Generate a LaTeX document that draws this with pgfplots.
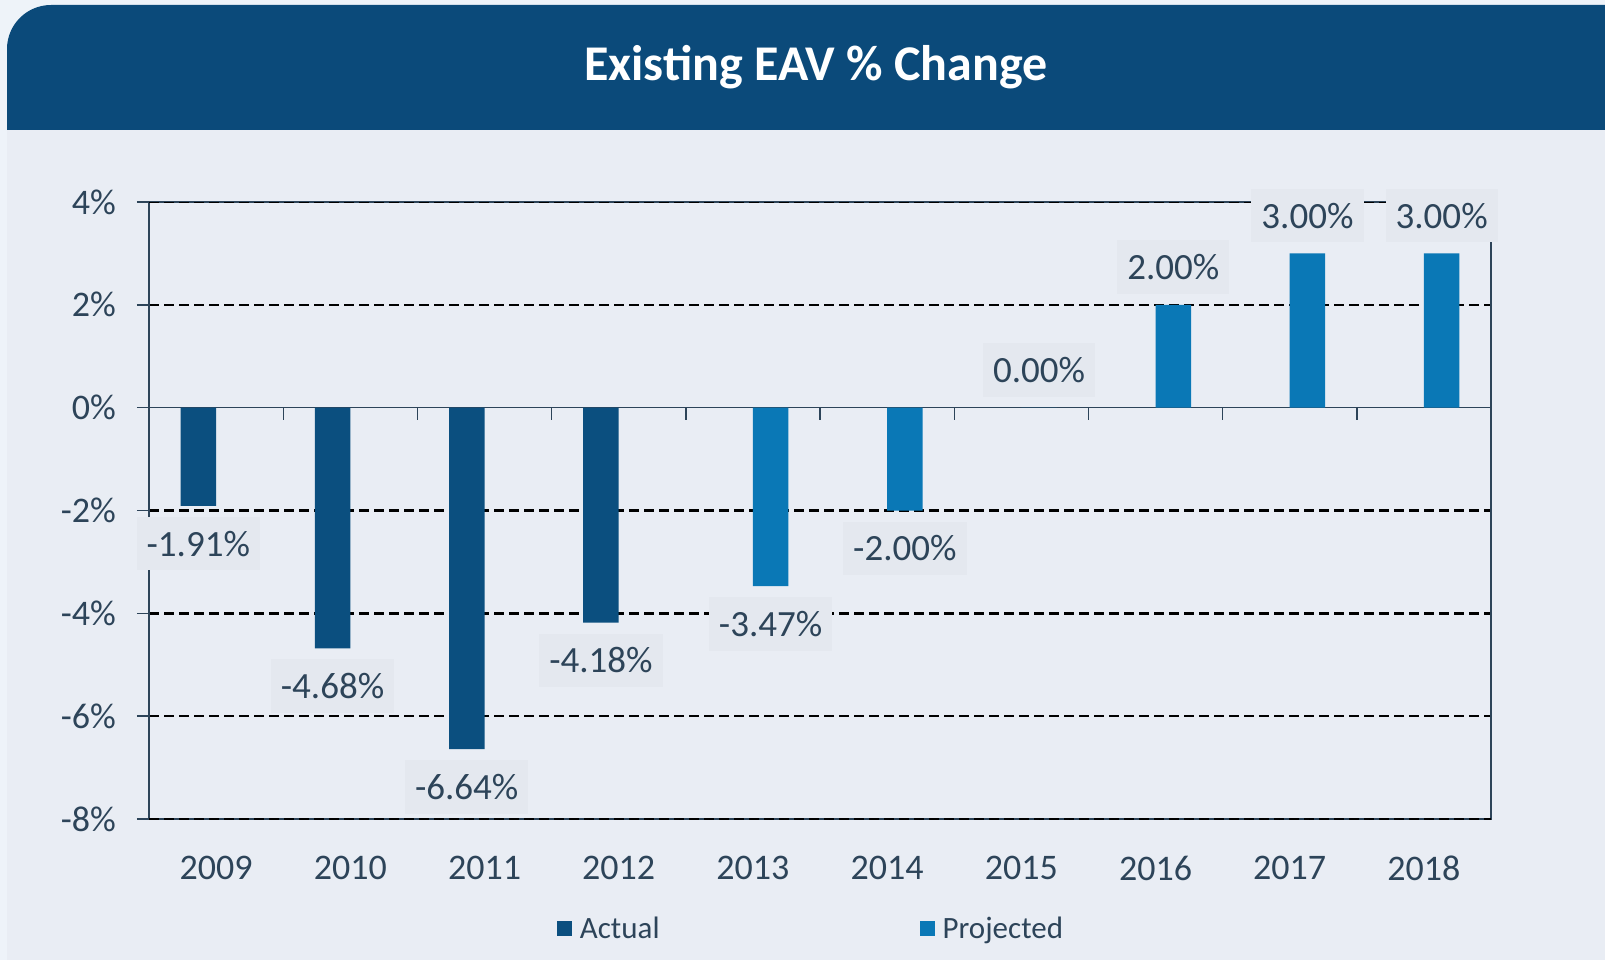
\documentclass[border=0pt]{standalone}
\usepackage{pgfplots}
\pgfplotsset{compat=1.18}
\usepackage{fontspec}
\setmainfont{Carlito}
\definecolor{bg}{HTML}{E9EDF4}
\definecolor{bgtop}{HTML}{EEF3F9}
\definecolor{band}{HTML}{0B4A7A}
\definecolor{actual}{HTML}{0B4F7F}
\definecolor{proj}{HTML}{0A78B6}
\definecolor{txt}{HTML}{2D4459}
\definecolor{lblbg}{HTML}{E4E8EF}
\begin{document}
\begin{tikzpicture}
\begin{scope}[x=0.5pt,y=0.5pt]
\useasboundingbox (0,0) rectangle (1605,960);
\fill[bgtop] (0,0) rectangle (1605,960);
\fill[bg] (7,0) rectangle (1605,830);
\fill[band] (7,830) [rounded corners=22pt] -- (7,955) -- (1700,955) [sharp corners] -- (1700,830) -- cycle;
\node[text=white, font=\bfseries\fontsize{25pt}{28pt}\selectfont] at (816,892.5) {Existing EAV \% Change};
\end{scope}
\begin{axis}[
  at={(74.5pt,70.5pt)}, anchor=south west,
  scale only axis, width=671pt, height=308.5pt,
  xmin=-0.5, xmax=9.5, ymin=-8, ymax=4,
  /pgf/number format/assume math mode=true,
  ytick={-8,-6,-4,-2,2,4},
  extra y ticks={0},
  extra y tick labels={0\%},
  extra y tick style={grid style={solid, draw=txt, line width=0.8pt, dash pattern=}},
  yticklabel={\pgfmathprintnumber{\tick}\%},
  xtick={0,...,9},
  xticklabels={2009,2010,2011,2012,2013,2014,2015,2016,2017,2018},
  x tick style={draw=none},
  ytick pos=left, tick align=outside, major tick length=6pt,
  y tick style={draw=txt, line width=0.7pt},
  ymajorgrids,
  grid style={black, line width=1.3pt, dash pattern=on 5pt off 2.5pt},
  axis line style={draw=txt, line width=0.7pt},
  ticklabel style={text=txt, font=\fontsize{18pt}{21pt}\selectfont},
  xticklabel style={yshift=-9pt},
  yticklabel style={xshift=-7pt},
  nodes near coords={\pgfmathprintnumber[fixed,fixed zerofill,precision=2]{\pgfplotspointmeta}\%},
  every node near coord/.append style={font=\fontsize{18.5pt}{21pt}\selectfont, text=txt, fill=lblbg, inner xsep=5pt, inner ysep=7pt, outer ysep=5.5pt},
  legend columns=2,
  legend style={at={(0.494,-0.178)}, anchor=center, draw=none, fill=none, text=txt,
    font=\fontsize{15.5pt}{18pt}\selectfont, inner sep=0pt,
    /tikz/every even column/.append style={column sep=128pt},
    /tikz/every odd column/.append style={column sep=2pt}},
  legend cell align=left,
]
\draw[black, line width=1.3pt, dash pattern=on 5pt off 2.5pt] (rel axis cs:0,1) -- (rel axis cs:1,1);
\draw[black, line width=1.3pt, dash pattern=on 5pt off 2.5pt] (rel axis cs:0,0) -- (rel axis cs:1,0);
\foreach \k in {0.5,1.5,...,8.5}{
  \edef\tmp{\noexpand\draw[txt, line width=0.7pt] (axis cs:\k,0) -- ++(0pt,-6pt);}\tmp
}
\addplot[ybar, bar width=17.75pt, bar shift=-8.875pt, fill=actual, draw=none,
  every node near coord/.append style={xshift=-8.875pt},
  legend image code/.code={\fill[actual] (0pt,-3.5pt) rectangle (7.5pt,4pt);}]
  coordinates {(0,-1.91) (1,-4.68) (2,-6.64) (3,-4.18)};
\addlegendentry{Actual}
\addplot[ybar, bar width=17.75pt, bar shift=8.875pt, fill=proj, draw=none,
  every node near coord/.append style={xshift=8.875pt},
  legend image code/.code={\fill[proj] (0pt,-3.5pt) rectangle (7.5pt,4pt);}]
  coordinates {(4,-3.47) (5,-2.00) (6,0) (7,2) (8,3) (9,3)};
\addlegendentry{Projected}
\end{axis}
\end{tikzpicture}
\end{document}
